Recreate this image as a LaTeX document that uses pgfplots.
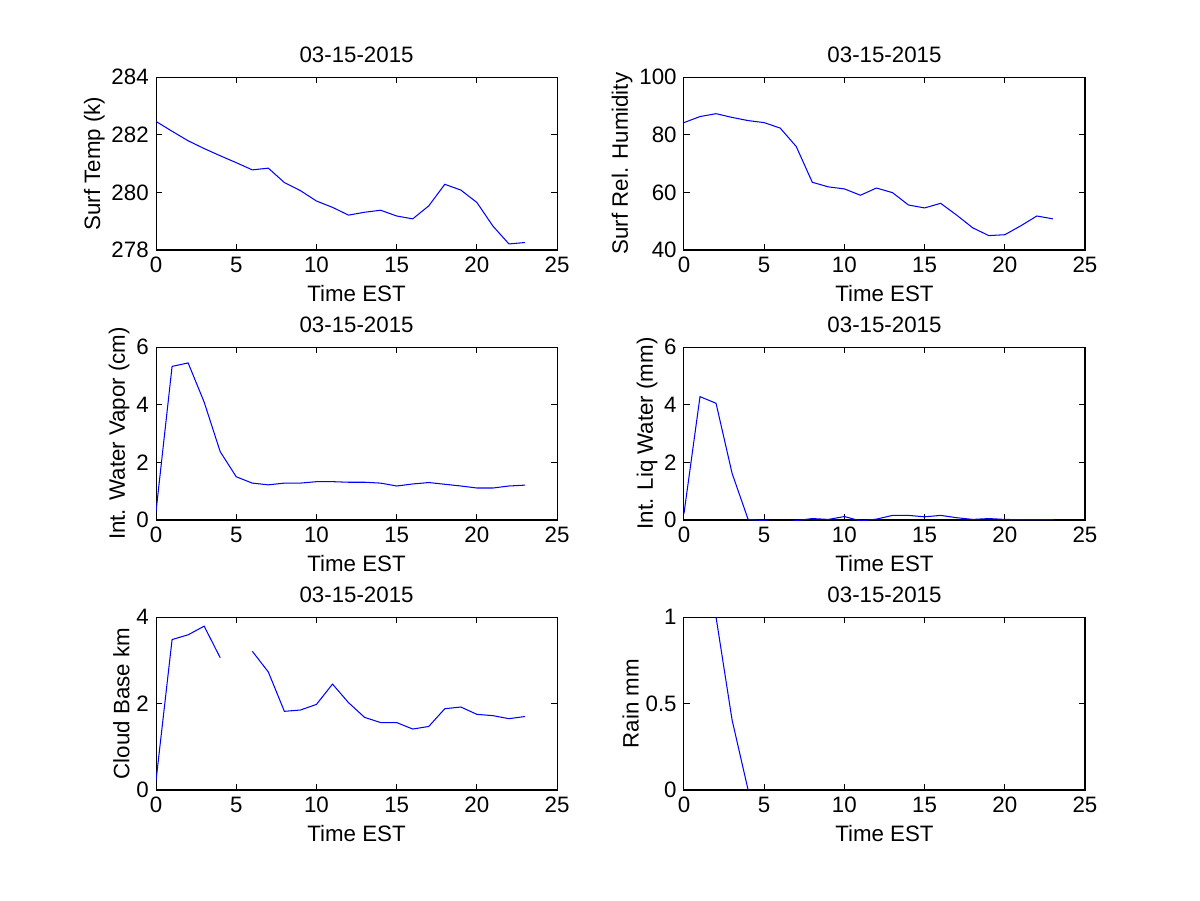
\documentclass[border=0pt]{standalone}
\usepackage{fontspec}
\setmainfont{Liberation Sans}
\usepackage{pgfplots}
\pgfplotsset{compat=1.18}

\pgfplotsset{
  panel/.style={
    scale only axis, width=192.5pt, height=83pt, anchor=south west,
    xmin=0, xmax=25, xtick={0,5,10,15,20,25},
    title={03-15-2015}, xlabel={Time EST},
    every axis title shift=0pt,
    title style={at={(axis description cs:0.5,1)}, anchor=base, yshift=7.2pt},
    xlabel style={at={(axis description cs:0.5,0)}, anchor=base, yshift=-24.8pt},
    ylabel shift=-3.6pt,
    tick align=inside, major tick length=2.9pt,
    axis line style={line width=0.5pt},
    every tick/.style={black, line width=0.5pt},
    /pgf/number format/assume math mode=true,
    font=\fontsize{10.7}{12.8}\selectfont,
    unbounded coords=jump,
  },
  ser/.style={color=blue, line width=0.5pt, mark=none},
}

\begin{document}
\begin{tikzpicture}
\path[use as bounding box] (0,0) rectangle (576pt,432pt);

% surface temperature
\begin{axis}[panel, at={(74.9pt,312pt)},
  ymin=278, ymax=284, ytick={278,280,282,284},
  ylabel={Surf Temp (k)}]
\addplot[ser] coordinates {
  (0,282.46)(1,282.12)(2,281.79)(3,281.52)(4,281.27)(5,281.03)(6,280.78)(7,280.84)
  (8,280.34)(9,280.06)(10,279.70)(11,279.48)(12,279.21)(13,279.31)(14,279.38)(15,279.18)
  (16,279.08)(17,279.53)(18,280.28)(19,280.08)(20,279.65)(21,278.83)(22,278.21)(23,278.26)
};
\end{axis}

% relative humidity
\begin{axis}[panel, at={(328.3pt,312pt)},
  ymin=40, ymax=100, ytick={40,60,80,100},
  ylabel={Surf Rel. Humidity}]
\addplot[ser] coordinates {
  (0,84.2)(1,86.3)(2,87.3)(3,86.0)(4,84.9)(5,84.2)(6,82.3)(7,75.9)
  (8,63.5)(9,61.9)(10,61.2)(11,59.0)(12,61.5)(13,59.9)(14,55.6)(15,54.6)
  (16,56.2)(17,52.1)(18,47.7)(19,45.0)(20,45.3)(21,48.4)(22,51.8)(23,50.8)
};
\end{axis}

% water vapor
\begin{axis}[panel, at={(74.9pt,182.4pt)},
  ymin=0, ymax=6, ytick={0,2,4,6},
  ylabel={Int. Water Vapor (cm)}]
\addplot[ser] coordinates {
  (0,0.3)(1,5.33)(2,5.45)(3,4.09)(4,2.37)(5,1.5)(6,1.28)(7,1.22)
  (8,1.28)(9,1.28)(10,1.33)(11,1.33)(12,1.31)(13,1.31)(14,1.28)(15,1.18)
  (16,1.25)(17,1.30)(18,1.24)(19,1.18)(20,1.11)(21,1.11)(22,1.18)(23,1.21)
};
\end{axis}

% liquid water
\begin{axis}[panel, at={(328.3pt,182.4pt)},
  ymin=0, ymax=6, ytick={0,2,4,6},
  ylabel={Int. Liq Water (mm)}]
\addplot[ser] coordinates {
  (0,0.22)(1,4.28)(2,4.05)(3,1.62)(4,0.02)(5,-0.02)(6,-0.1)(7,-0.02)
  (8,0.05)(9,0.02)(10,0.12)(11,-0.03)(12,0.03)(13,0.16)(14,0.16)(15,0.11)
  (16,0.16)(17,0.08)(18,0.02)(19,0.05)(20,0.02)(21,0.01)(22,0.01)(23,0.01)
};
\end{axis}

% cloud base
\begin{axis}[panel, at={(74.9pt,52.8pt)},
  ymin=0, ymax=4, ytick={0,2,4},
  ylabel={Cloud Base km}]
\addplot[ser] coordinates {
  (0,0.22)(1,3.48)(2,3.59)(3,3.79)(4,3.06)(5,nan)(6,3.21)(7,2.73)
  (8,1.82)(9,1.85)(10,1.98)(11,2.45)(12,2.02)(13,1.68)(14,1.56)(15,1.56)
  (16,1.41)(17,1.47)(18,1.88)(19,1.92)(20,1.75)(21,1.72)(22,1.65)(23,1.70)
};
\end{axis}

% rain
\begin{axis}[panel, at={(328.3pt,52.8pt)},
  ymin=0, ymax=1, ytick={0,0.5,1},
  ylabel={Rain mm}]
\addplot[ser] coordinates {
  (2,1.0)(3,0.405)(4,0.0)
};
\end{axis}
\end{tikzpicture}
\end{document}
